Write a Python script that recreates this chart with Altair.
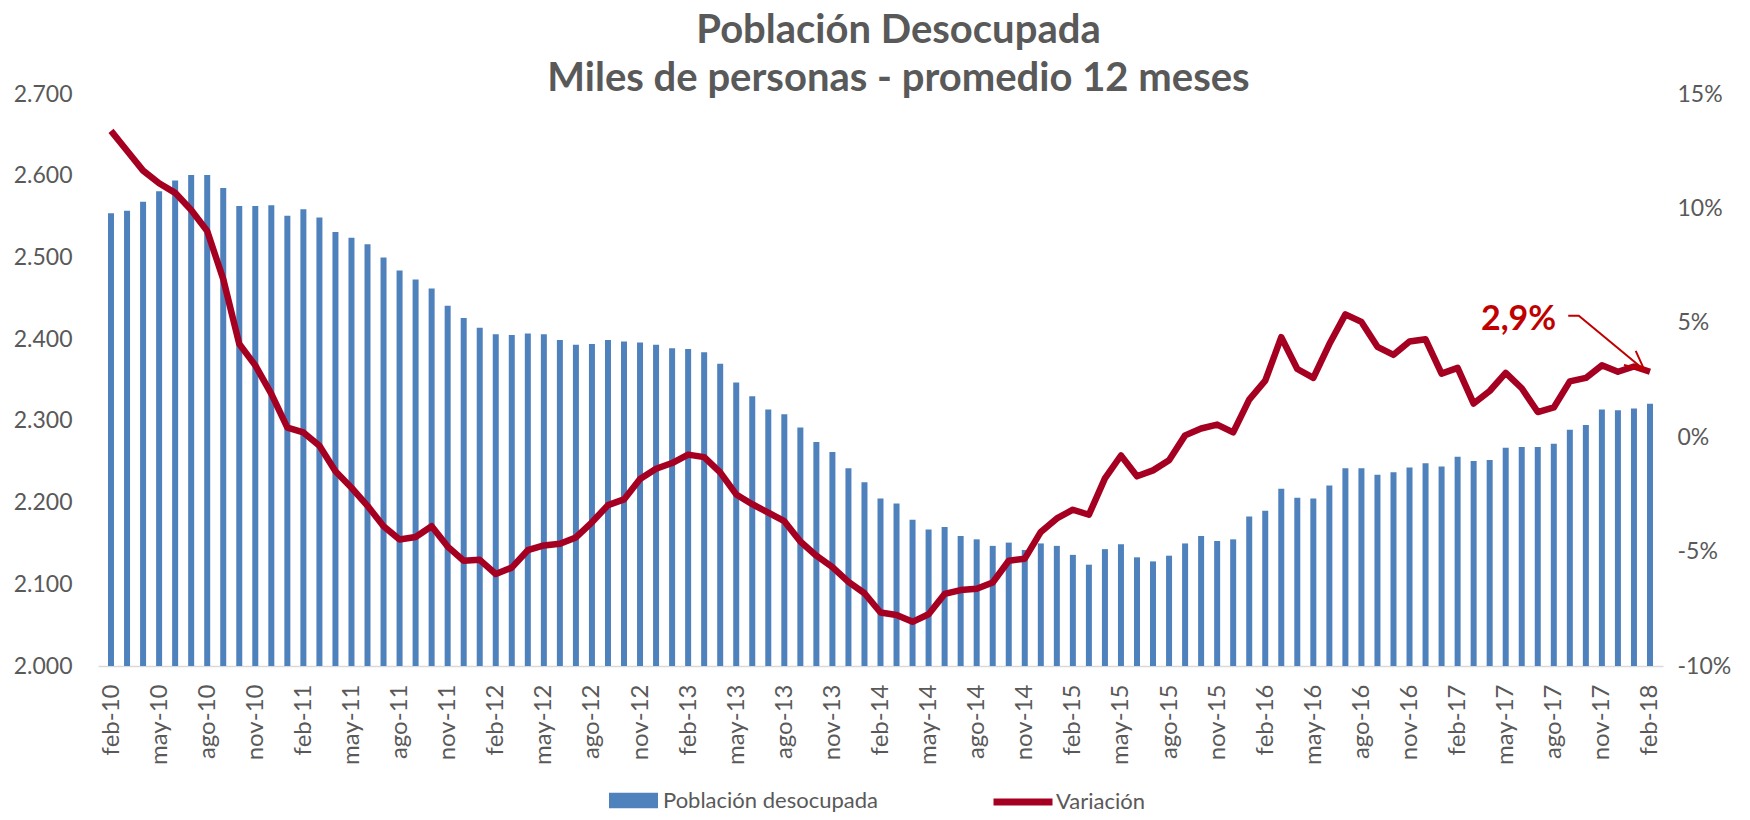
import altair as alt
import pandas as pd

# ---------------- data ----------------
tick_labels = [
    "feb-10", "may-10", "ago-10", "nov-10", "feb-11", "may-11", "ago-11", "nov-11",
    "feb-12", "may-12", "ago-12", "nov-12", "feb-13", "may-13", "ago-13", "nov-13",
    "feb-14", "may-14", "ago-14", "nov-14", "feb-15", "may-15", "ago-15", "nov-15",
    "feb-16", "may-16", "ago-16", "nov-16", "feb-17", "may-17", "ago-17", "nov-17",
    "feb-18",
]

poblacion = [
    2554, 2557, 2568, 2581, 2594, 2601, 2601, 2585, 2563, 2563, 2564, 2551,
    2559, 2549, 2531, 2524, 2516, 2500, 2484, 2473, 2462, 2441, 2426, 2414,
    2406, 2405, 2407, 2406, 2399, 2393, 2394, 2399, 2397, 2396, 2393, 2389,
    2388, 2384, 2370, 2347, 2330, 2314, 2308, 2292, 2274, 2262, 2242, 2225,
    2205, 2199, 2179, 2167, 2170, 2159, 2155, 2147, 2151, 2142, 2150, 2147,
    2136, 2124, 2143, 2149, 2133, 2128, 2135, 2150, 2159, 2153, 2155, 2183,
    2190, 2217, 2206, 2205, 2221, 2242, 2242, 2234, 2237, 2243, 2248, 2244,
    2256, 2251, 2252, 2267, 2268, 2268, 2272, 2289, 2295, 2314, 2313, 2315,
    2321,
]

variacion = [
    13.39, 12.52, 11.65, 11.10, 10.68, 9.93, 9.01, 6.91, 4.07, 3.14, 1.89, 0.42,
    0.21, -0.37, -1.49, -2.21, -3.00, -3.89, -4.47, -4.36, -3.89, -4.78, -5.40, -5.36,
    -5.98, -5.70, -4.94, -4.73, -4.66, -4.38, -3.72, -2.97, -2.72, -1.83, -1.38, -1.13,
    -0.76, -0.87, -1.54, -2.50, -2.93, -3.30, -3.67, -4.56, -5.18, -5.68, -6.32, -6.82,
    -7.66, -7.77, -8.07, -7.74, -6.85, -6.68, -6.62, -6.35, -5.40, -5.31, -4.14, -3.55,
    -3.17, -3.39, -1.80, -0.80, -1.71, -1.45, -1.01, 0.08, 0.38, 0.55, 0.21, 1.64,
    2.47, 4.37, 2.98, 2.59, 4.07, 5.37, 5.04, 3.95, 3.60, 4.18, 4.28, 2.78,
    3.03, 1.47, 2.02, 2.81, 2.14, 1.10, 1.30, 2.44, 2.59, 3.14, 2.86, 3.09,
    2.86,
]

serie_barras = "Población desocupada"
serie_linea = "Variación"

titulo = ["Población Desocupada", "Miles de personas - promedio 12 meses"]

# annotation (data coordinates: month index, percent)
anot_texto = ["2,9%"]
anot_x = [87.8]
anot_y = [4.69]
flecha_x = [90.9, 91.56, 95.65]
flecha_y = [5.31, 5.31, 2.94]

# ---------------- styles ----------------
AZUL = "#4F81BD"
ROJO = "#A50021"
ROJO_ANOT = "#C00000"
GRIS = "#595959"
FONT = "Lato"

n = len(poblacion)
df = pd.DataFrame({"i": list(range(n)), "pob": poblacion, "var": variacion})
df_txt = pd.DataFrame({"x": anot_x, "y": anot_y, "t": anot_texto})
df_arrow = pd.DataFrame({"x": flecha_x, "y": flecha_y, "o": list(range(len(flecha_x)))})
df_tip = df_arrow.tail(1)

label_js = "[" + ",".join("'%s'" % s for s in tick_labels) + "]"

x_scale = alt.Scale(domain=[-0.5, n - 0.5], nice=False, zero=False)
x_enc = alt.X(
    "i:Q",
    scale=x_scale,
    axis=alt.Axis(
        values=list(range(0, n, 3)),
        labelExpr=label_js + "[round(datum.value/3)]",
        labelAngle=270,
        labelOverlap=False,
        labelBound=False,
        labelFlush=False,
        title=None,
        ticks=False,
        grid=False,
        domainColor="#D9D9D9",
        domainWidth=1.5,
        labelPadding=18,
        labelFontSize=24,
        labelColor=GRIS,
        labelFont=FONT,
    ),
)

pct_scale = alt.Scale(domain=[-10, 15], nice=False, zero=False)

bars = (
    alt.Chart(df)
    .transform_calculate(s="'" + serie_barras + "'")
    .mark_bar(size=6)
    .encode(
        x=x_enc,
        y=alt.Y(
            "pob:Q",
            scale=alt.Scale(domain=[2000, 2700], nice=False, zero=False),
            axis=alt.Axis(
                values=list(range(2000, 2701, 100)),
                labelExpr="replace(format(datum.value, ','), ',', '.')",
                title=None,
                domain=False,
                ticks=False,
                grid=False,
                labelPadding=26,
                labelFontSize=23,
                labelColor=GRIS,
                labelFont=FONT,
            ),
        ),
        y2=alt.datum(2000),
        color=alt.Color(
            "s:N",
            scale=alt.Scale(domain=[serie_barras], range=[AZUL]),
            legend=alt.Legend(
                title=None,
                orient="none",
                legendX=511,
                legendY=682,
                symbolType="M-1,-0.32H1V0.32H-1Z",
                symbolSize=2401,
                symbolStrokeWidth=0,
                labelFont=FONT,
                labelFontSize=22,
                labelColor=GRIS,
                labelOffset=5,
                labelLimit=0,
                padding=0,
            ),
        ),
    )
)

line = (
    alt.Chart(df)
    .transform_calculate(s="'" + serie_linea + "'")
    .mark_line(strokeWidth=6.5, strokeJoin="round")
    .encode(
        x="i:Q",
        y=alt.Y(
            "var:Q",
            scale=pct_scale,
            axis=alt.Axis(
                orient="right",
                values=list(range(-10, 16, 5)),
                labelExpr="datum.value + '%'",
                title=None,
                domain=False,
                ticks=False,
                grid=False,
                labelPadding=14,
                labelFontSize=23,
                labelColor=GRIS,
                labelFont=FONT,
            ),
        ),
        color=alt.Color(
            "s:N",
            scale=alt.Scale(domain=[serie_linea], range=[ROJO]),
            legend=alt.Legend(
                title=None,
                orient="none",
                legendX=892,
                legendY=675,
                symbolType="stroke",
                symbolSize=3481,
                symbolStrokeWidth=7,
                labelFont=FONT,
                labelFontSize=22,
                labelColor=GRIS,
                labelOffset=0,
                labelLimit=0,
                padding=0,
            ),
        ),
    )
)

txt = (
    alt.Chart(df_txt)
    .mark_text(font=FONT, fontSize=34, fontWeight="bold", color=ROJO_ANOT,
               align="center", baseline="alphabetic")
    .encode(
        x=alt.X("x:Q", scale=x_scale),
        y=alt.Y("y:Q", scale=pct_scale, axis=None),
        text="t:N",
    )
)

arrow = (
    alt.Chart(df_arrow)
    .mark_line(strokeWidth=2, color=ROJO_ANOT)
    .encode(
        x=alt.X("x:Q", scale=x_scale),
        y=alt.Y("y:Q", scale=pct_scale, axis=None),
        order="o:Q",
    )
)

tip = (
    alt.Chart(df_tip)
    .mark_point(shape="M-0.49,-1L0,0L0.49,-1", size=1422, angle=309.5,
                filled=False, stroke=ROJO_ANOT, strokeWidth=2, opacity=1)
    .encode(
        x=alt.X("x:Q", scale=x_scale),
        y=alt.Y("y:Q", scale=pct_scale, axis=None),
    )
)

chart = (
    alt.layer(bars, line, txt, arrow, tip)
    .resolve_scale(y="independent", color="independent")
    .properties(
        width=1565,
        height=572,
        padding={"left": 90, "top": 86, "right": 75, "bottom": 146},
        autosize=alt.AutoSizeParams(type="none"),
        title=alt.TitleParams(
            text=titulo,
            font=FONT,
            fontSize=40,
            fontWeight="bold",
            color=GRIS,
            anchor="middle",
            frame="group",
            lineHeight=48,
            offset=-16,
            dx=18,
        ),
    )
    .configure_view(stroke=None)
)

chart.save("out.html", embed_options={"renderer": "svg", "actions": False})
